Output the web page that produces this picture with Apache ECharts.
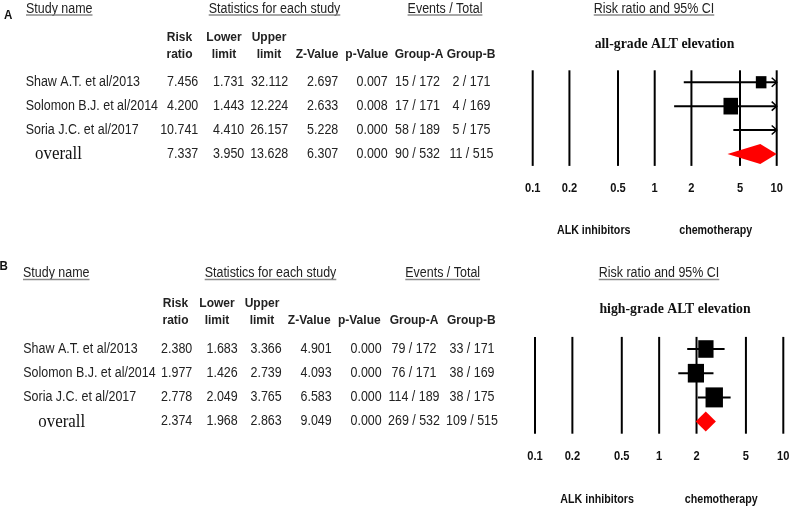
<!DOCTYPE html>
<html><head><meta charset="utf-8">
<script src="https://cdn.jsdelivr.net/npm/echarts@6/dist/echarts.min.js"></script>
<style>html,body{margin:0;padding:0;background:#fff}#c{width:794px;height:510px}</style>
</head><body><div id="c"></div>
<script>
// ---------------- data ----------------
const studyNames = ['Shaw A.T. et al/2013', 'Solomon B.J. et al/2014', 'Soria J.C. et al/2017', 'overall'];

const riskRatioA  = [7.456, 4.200, 10.741, 7.337];
const lowerLimitA = [1.731, 1.443, 4.410, 3.950];
const upperLimitA = [32.112, 12.224, 26.157, 13.628];
const zValueA     = [2.697, 2.633, 5.228, 6.307];
const pValueA     = [0.007, 0.008, 0.000, 0.000];
const groupAEventsA = ['15 / 172', '17 / 171', '58 / 189', '90 / 532'];
const groupBEventsA = ['2 / 171', '4 / 169', '5 / 175', '11 / 515'];

const riskRatioB  = [2.380, 1.977, 2.778, 2.374];
const lowerLimitB = [1.683, 1.426, 2.049, 1.968];
const upperLimitB = [3.366, 2.739, 3.765, 2.863];
const zValueB     = [4.901, 4.093, 6.583, 9.049];
const pValueB     = [0.000, 0.000, 0.000, 0.000];
const groupAEventsB = ['79 / 172', '76 / 171', '114 / 189', '269 / 532'];
const groupBEventsB = ['33 / 171', '38 / 169', '38 / 175', '109 / 515'];

const axisTicks  = [0.1, 0.2, 0.5, 1, 2, 5, 10];
const tickLabels = ['0.1', '0.2', '0.5', '1', '2', '5', '10'];
const columnHeaders = [['Risk', 'ratio'], ['Lower', 'limit'], ['Upper', 'limit'], ['', 'Z-Value'], ['', 'p-Value'], ['', 'Group-A'], ['', 'Group-B']];
const sectionTitles = ['Study name', 'Statistics for each study', 'Events / Total', 'Risk ratio and 95% CI'];
const panelLetters = ['A', 'B'];
const panelTitles = ['all-grade ALT elevation', 'high-grade ALT elevation'];
const favourLabels = ['ALK inhibitors', 'chemotherapy'];

const panels = [
  { rr: riskRatioA, lo: lowerLimitA, hi: upperLimitA, z: zValueA, p: pValueA, evA: groupAEventsA, evB: groupBEventsA },
  { rr: riskRatioB, lo: lowerLimitB, hi: upperLimitB, z: zValueB, p: pValueB, evA: groupAEventsB, evB: groupBEventsB }
];

// ---------------- layout / style ----------------
const SX = 0.89;
const SANS = '"Liberation Sans", Arial, sans-serif';
const SERIF = '"Liberation Serif", "Times New Roman", serif';
const TXT = '#222';
const layout = [
  { grid: { left: 532.7, top: 70.3, width: 244, height: 95.6 },
    nameX: 25.7, overallX: 35, numRight: [198.3, 244.3, 288.3, 338.3, 387.7], evCenter: [417.5, 471.5],
    hdrX: [179.5, 224, 269, 317, 366.7, 419, 471], hdrY: [37.7, 54.3],
    titleY: 9, titleX: [26, 274.5, 445, 654], letter: [8.3, 15], subtitle: [664.5, 43.7], tickDy: 23, favourDy: 65 },
  { grid: { left: 535, top: 336.9, width: 248.3, height: 96.8 },
    nameX: 23.3, overallX: 38.3, numRight: [192.3, 237.7, 281.7, 331.7, 381.7], evCenter: [414, 472],
    hdrX: [175.5, 217, 262, 309.2, 359.3, 414, 471.3], hdrY: [303.3, 320],
    titleY: 273.5, titleX: [23, 270.5, 442.7, 659], letter: [3.7, 266.7], subtitle: [675, 309.3], tickDy: 23, favourDy: 66.3 }
];
const MAX_SIDE = 20, DIAMOND_H = 20;

const mctx = document.createElement('canvas').getContext('2d');
function textW(t, font) { mctx.font = font; return mctx.measureText(t).width * SX; }

function txt(text, x, y, size, opt) {
  opt = opt || {};
  return {
    type: 'text', x: x, y: y, scaleX: SX, silent: true,
    style: { text: text, fill: opt.fill || TXT, fontSize: size, fontFamily: opt.family || SANS,
      fontWeight: opt.weight || 'normal', align: opt.align || 'left', verticalAlign: 'middle' }
  };
}

// ---------------- graphic (static headers) ----------------
const graphics = [];
layout.forEach((L, pi) => {
  graphics.push(txt(panelLetters[pi], L.letter[0], L.letter[1], 13, { weight: 'bold', align: 'center', fill: '#111' }));
  sectionTitles.forEach((t, k) => {
    const align = k === 0 ? 'left' : 'center';
    graphics.push(txt(t, L.titleX[k], L.titleY, 14, { align: align }));
    const w = textW(t, '14px ' + SANS);
    const x0 = k === 0 ? L.titleX[k] : L.titleX[k] - w / 2;
    graphics.push({ type: 'line', silent: true, shape: { x1: x0, y1: L.titleY + 6, x2: x0 + w, y2: L.titleY + 6 },
      style: { stroke: '#8a8a8a', lineWidth: 1.6 } });
  });
  columnHeaders.forEach((h, k) => {
    if (h[0]) graphics.push(txt(h[0], L.hdrX[k], L.hdrY[0], 13.5, { weight: 'bold', align: 'center' }));
    graphics.push(txt(h[1], L.hdrX[k], L.hdrY[1], 13.5, { weight: 'bold', align: 'center' }));
  });
  graphics.push(txt(panelTitles[pi], L.subtitle[0], L.subtitle[1], 15.5, { weight: 'bold', family: SERIF, align: 'center', fill: '#111' }));
});

// ---------------- series ----------------
const series = [];
panels.forEach((P, pi) => {
  const L = layout[pi];
  const xMin = axisTicks[0], xMax = axisTicks[axisTicks.length - 1];
  // inverse standard errors -> square sizes
  const invSe = P.rr.map((v, i) => 3.92 / (Math.log(P.hi[i]) - Math.log(P.lo[i])));
  const maxInv = Math.max.apply(null, invSe.slice(0, invSe.length - 1));

  // reference lines + tick labels + favour labels
  series.push({
    type: 'custom', xAxisIndex: pi, yAxisIndex: pi, clip: false, silent: true, z: 1,
    data: axisTicks.map((v, k) => [v, k]),
    renderItem: function (params, api) {
      const cs = params.coordSys;
      const k = api.value(1);
      const x = api.coord([api.value(0), 0])[0];
      const ch = [
        { type: 'line', shape: { x1: x, y1: cs.y, x2: x, y2: cs.y + cs.height }, style: { stroke: '#000', lineWidth: 2 } },
        txt(tickLabels[k], x, cs.y + cs.height + L.tickDy, 12.5, { weight: 'bold', align: 'center', fill: '#111' })
      ];
      if (k === 0) {
        const xl = api.coord([Math.sqrt(xMin * 1), 0])[0];
        const xr = api.coord([Math.sqrt(1 * xMax), 0])[0];
        ch.push(txt(favourLabels[0], xl, cs.y + cs.height + L.favourDy, 12, { weight: 'bold', align: 'center', fill: '#111' }));
        ch.push(txt(favourLabels[1], xr, cs.y + cs.height + L.favourDy, 12, { weight: 'bold', align: 'center', fill: '#111' }));
      }
      return { type: 'group', children: ch };
    }
  });

  // forest marks
  series.push({
    type: 'custom', xAxisIndex: pi, yAxisIndex: pi, clip: false, silent: true, z: 3,
    data: P.rr.map((v, i) => [v, i, P.lo[i], P.hi[i]]),
    renderItem: function (params, api) {
      const i = api.value(1), rr = api.value(0), lo = api.value(2), hi = api.value(3);
      const y = api.coord([1, i])[1];
      const xl = api.coord([Math.max(lo, xMin), i])[0];
      const xr = api.coord([Math.min(hi, xMax), i])[0];
      const ch = [];
      if (i === P.rr.length - 1) {
        const xp = api.coord([Math.min(rr, xMax), i])[0];
        ch.push({ type: 'polygon', shape: { points: [[xl, y], [xp, y - DIAMOND_H / 2], [xr, y], [xp, y + DIAMOND_H / 2]] },
          style: { fill: '#ff0000', stroke: null } });
      } else {
        ch.push({ type: 'line', shape: { x1: xl, y1: y, x2: xr, y2: y }, style: { stroke: '#000', lineWidth: 2 } });
        if (hi > xMax) ch.push({ type: 'polyline', shape: { points: [[xr - 5, y - 4.5], [xr, y], [xr - 5, y + 4.5]] }, style: { stroke: '#000', lineWidth: 1.5, fill: null } });
        if (lo < xMin) ch.push({ type: 'polyline', shape: { points: [[xl + 5, y - 4.5], [xl, y], [xl + 5, y + 4.5]] }, style: { stroke: '#000', lineWidth: 1.5, fill: null } });
        if (rr >= xMin && rr <= xMax) {
          const xc = api.coord([rr, i])[0];
          const h = MAX_SIDE * invSe[i] / maxInv, w = h * 0.87;
          ch.push({ type: 'rect', shape: { x: xc - w / 2, y: y - h / 2, width: w, height: h }, style: { fill: '#000' } });
        }
      }
      return { type: 'group', children: ch };
    }
  });

  // table rows
  series.push({
    type: 'custom', xAxisIndex: pi, yAxisIndex: pi, clip: false, silent: true, z: 2,
    data: studyNames.map((n, i) => [1, i]),
    renderItem: function (params, api) {
      const i = api.value(1);
      const y = api.coord([1, i])[1];
      const last = i === studyNames.length - 1;
      const ch = [];
      if (last) ch.push(txt(studyNames[i], L.overallX, y, 19, { family: SERIF, fill: '#111' }));
      else ch.push(txt(studyNames[i], L.nameX, y, 14));
      const nums = [P.rr[i], P.lo[i], P.hi[i], P.z[i], P.p[i]];
      nums.forEach((v, k) => ch.push(txt(v.toFixed(3), L.numRight[k], y, 14, { align: 'right' })));
      ch.push(txt(P.evA[i], L.evCenter[0], y, 14, { align: 'center' }));
      ch.push(txt(P.evB[i], L.evCenter[1], y, 14, { align: 'center' }));
      return { type: 'group', children: ch };
    }
  });
});

const option = {
  animation: false,
  backgroundColor: '#fff',
  grid: layout.map(L => Object.assign({ containLabel: false }, L.grid)),
  xAxis: layout.map((L, i) => ({ type: 'log', logBase: 10, gridIndex: i, min: axisTicks[0], max: axisTicks[axisTicks.length - 1], show: false })),
  yAxis: layout.map((L, i) => ({ type: 'category', gridIndex: i, data: studyNames, inverse: true, show: false })),
  graphic: graphics,
  series: series
};
const chart = echarts.init(document.getElementById('c'));
chart.setOption(option);
</script>
</body></html>
